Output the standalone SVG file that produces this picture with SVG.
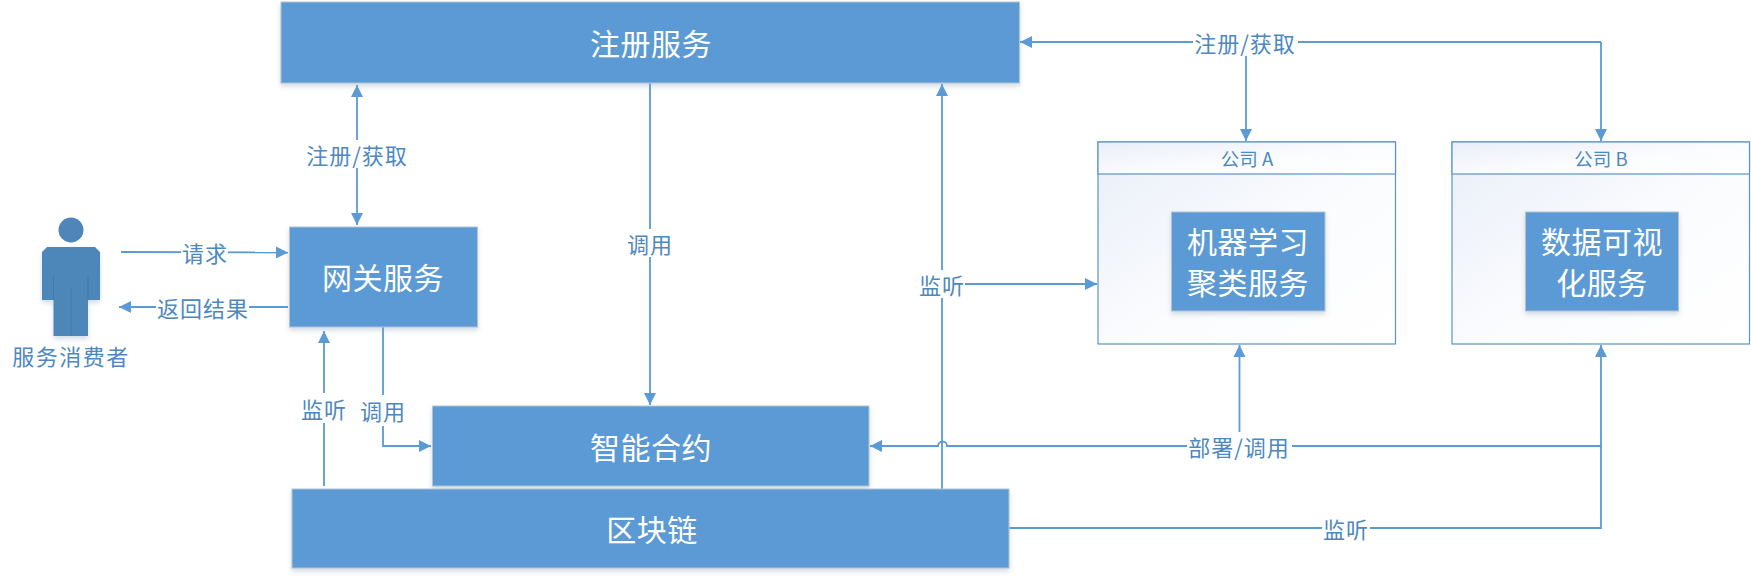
<svg xmlns="http://www.w3.org/2000/svg" width="1751" height="578" viewBox="0 0 1751 578">
  <style>
    text { font-family: "Noto Sans CJK SC", "Liberation Sans", sans-serif; text-anchor: middle; dominant-baseline: central; }
    .box { fill: #5b9ad5; stroke: #b4c3d2; stroke-width: 1; filter: url(#lift); }
    .title { fill: #ffffff; font-size: 30px; letter-spacing: 0.5px; }
    .label { fill: #4d88bf; font-size: 22px; letter-spacing: 1px; }
    .wire { fill: none; stroke: #5b9ad5; stroke-width: 1.8; }
    .end { marker-end: url(#head); }
    .both { marker-start: url(#headStart); marker-end: url(#head); }
    .mask { fill: #ffffff; }
    .frame { stroke: #5b93c6; stroke-width: 1.2; }
    .figure { fill: #4e86b9; }
  </style>
  <defs>
    <marker id="head" markerUnits="userSpaceOnUse" markerWidth="13" markerHeight="13" refX="12" refY="6.500" orient="auto">
      <path d="M0 0.500 L12 6.500 L0 12.500 Z" fill="#5b9ad5"/>
    </marker>
    <marker id="headStart" markerUnits="userSpaceOnUse" markerWidth="13" markerHeight="13" refX="1" refY="6.500" orient="auto">
      <path d="M13 0.500 L1 6.500 L13 12.500 Z" fill="#5b9ad5"/>
    </marker>
    <linearGradient id="wash" x1="0" y1="0" x2="1" y2="1">
      <stop offset="0" stop-color="#e9eef8"/>
      <stop offset="0.55" stop-color="#fbfcfe"/>
      <stop offset="1" stop-color="#ffffff"/>
    </linearGradient>
    <filter id="lift" x="-5%" y="-10%" width="110%" height="125%">
      <feDropShadow dx="0" dy="3" stdDeviation="2.5" flood-color="#7f9dbb" flood-opacity="0.35"/>
    </filter>
  </defs>

  <g id="connectors">
    <path class="wire both" d="M357 85 V225"/>
    <path class="wire end" d="M650 83 V405"/>
    <path class="wire end" d="M1601 42 H1020"/>
    <path class="wire end" d="M1246 42 V141"/>
    <path class="wire end" d="M1601 42 V141"/>
    <path class="wire end" d="M942 489 V84"/>
    <path class="wire end" d="M942 284 H1097"/>
    <path class="wire end" d="M1601 446 H947 A4.500 4.500 0 0 0 938 446 H870"/>
    <path class="wire end" d="M1239.500 446 V345"/>
    <path class="wire end" d="M1009 528 H1601 V345"/>
    <path class="wire end" d="M121 252 L288 252.500"/>
    <path class="wire end" d="M288 307 H119"/>
    <path class="wire end" d="M324 486 V331"/>
    <path class="wire end" d="M383 327 V446 H431"/>

    <rect class="mask" x="1193" y="28" width="105" height="28"/>
    <rect class="mask" x="303" y="140" width="108" height="28"/>
    <rect class="mask" x="625" y="229" width="50" height="28"/>
    <rect class="mask" x="919" y="270" width="46" height="28"/>
    <rect class="mask" x="1187" y="432" width="105" height="28"/>
    <rect class="mask" x="1322" y="514" width="48" height="28"/>
    <rect class="mask" x="181" y="238" width="47" height="28"/>
    <rect class="mask" x="156" y="293" width="93" height="28"/>
    <rect class="mask" x="300" y="393" width="48" height="30"/>
    <rect class="mask" x="360" y="395" width="46" height="31"/>

    <text class="label" x="1245" y="42">注册/获取</text>
    <text class="label" x="357" y="154">注册/获取</text>
    <text class="label" x="650" y="243">调用</text>
    <text class="label" x="942" y="284">监听</text>
    <text class="label" x="1239" y="446">部署/调用</text>
    <text class="label" x="1346" y="528">监听</text>
    <text class="label" x="205" y="252">请求</text>
    <text class="label" x="203" y="307">返回结果</text>
    <text class="label" x="324" y="408">监听</text>
    <text class="label" x="383" y="410">调用</text>
  </g>

  <g id="registry">
    <rect class="box" x="281" y="2" width="738.500" height="81"/>
    <text class="title" x="651" y="42">注册服务</text>
  </g>

  <g id="consumer">
    <circle class="figure" cx="71" cy="230" r="12.500"/>
    <path class="figure" d="M47 247 H95 L100 252 V300 H88 V336 H53.500 V300 H42 V252 Z" filter="url(#lift)"/>
    <path d="M53.500 276 V300 M88 276 V300 M71 288 V336" fill="none" stroke="#447aab" stroke-width="1"/>
    <text class="label" x="71" y="355" style="letter-spacing:1.500px">服务消费者</text>
  </g>

  <g id="gateway">
    <rect class="box" x="289.500" y="227" width="188" height="100"/>
    <text class="title" x="383" y="276">网关服务</text>
  </g>

  <g id="contract">
    <rect class="box" x="432.500" y="406" width="436.500" height="80"/>
    <text class="title" x="651" y="446">智能合约</text>
  </g>

  <g id="chain">
    <rect class="box" x="292" y="489" width="717" height="79"/>
    <text class="title" x="652" y="528">区块链</text>
  </g>

  <g id="company-a">
    <rect class="frame" x="1098" y="142" width="297.500" height="202" fill="url(#wash)"/>
    <rect class="frame" x="1098" y="142" width="297.500" height="32" fill="url(#wash)"/>
    <text x="1247" y="158" font-size="18.500" fill="#4d88bf">公司 A</text>
    <rect class="box" x="1171.500" y="212" width="153.500" height="99"/>
    <text class="title" x="1248" y="240">机器学习</text>
    <text class="title" x="1248" y="281">聚类服务</text>
  </g>

  <g id="company-b">
    <rect class="frame" x="1452" y="142" width="297.500" height="202" fill="url(#wash)"/>
    <rect class="frame" x="1452" y="142" width="297.500" height="32" fill="url(#wash)"/>
    <text x="1601" y="158" font-size="18.500" fill="#4d88bf">公司 B</text>
    <rect class="box" x="1525.500" y="212" width="153" height="99"/>
    <text class="title" x="1602" y="240">数据可视</text>
    <text class="title" x="1602" y="281">化服务</text>
  </g>
</svg>
